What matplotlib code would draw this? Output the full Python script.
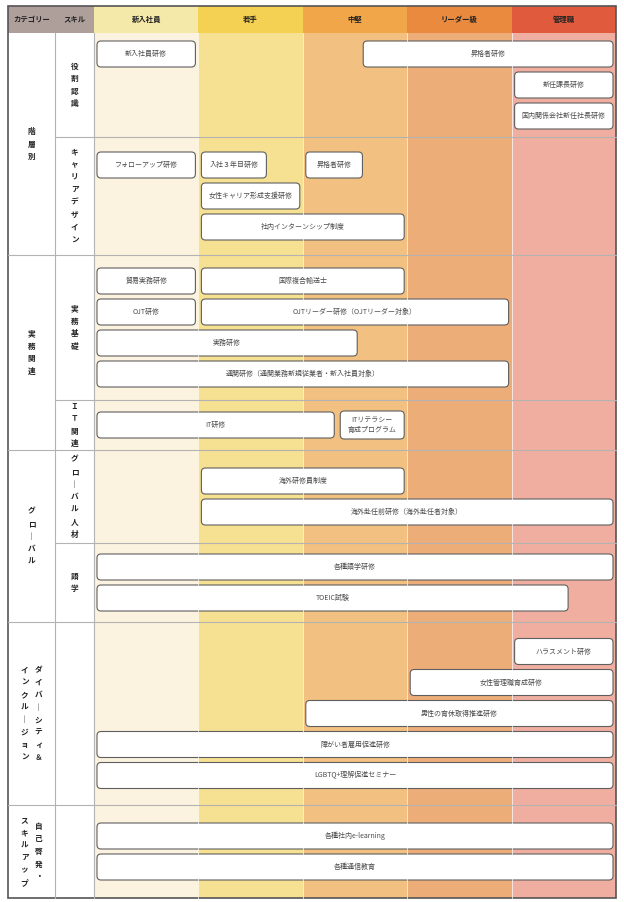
import matplotlib
matplotlib.use("Agg")
import matplotlib.pyplot as plt
from matplotlib.patches import Rectangle, FancyBboxPatch

plt.rcParams["font.family"] = ["Noto Sans CJK JP", "DejaVu Sans"]

# --- data -------------------------------------------------------------
LEVELS = ["新入社員", "若手", "中堅", "リーダー級", "管理職"]
HEAD_LEFT = ["カテゴリー", "スキル"]

# vertical labels: "\n" starts a new column (columns run right to left)
CATEGORIES = ["階層別", "実務関連", "グローバル",
              "ダイバーシティ＆\nインクルージョン", "自己啓発・\nスキルアップ"]
CATEGORY_ROWS = [2, 2, 2, 1, 1]
SKILLS = ["役割認識", "キャリアデザイン", "実務基礎", "ＩＴ関連",
          "グローバル人材", "語学", "", ""]

# trainings: name, skill row, span start / end in level units, lane in row
TRAINING_NAMES = [
    "新入社員研修", "昇格者研修", "新任課長研修", "国内関係会社新任社長研修",
    "フォローアップ研修", "入社３年目研修", "昇格者研修", "女性キャリア形成支援研修",
    "社内インターンシップ制度",
    "貿易実務研修", "国際複合輸送士", "OJT研修", "OJTリーダー研修（OJTリーダー対象）",
    "実務研修", "通関研修（通関業務新規従業者・新入社員対象）",
    "IT研修", "ITリテラシー\n育成プログラム",
    "海外研修員制度", "海外赴任前研修（海外赴任者対象）",
    "各種語学研修", "TOEIC試験",
    "ハラスメント研修", "女性管理職育成研修", "男性の育休取得推進研修",
    "障がい者雇用促進研修", "LGBTQ+理解促進セミナー",
    "各種社内e-learning", "各種通信教育",
]
TRAINING_ROW = [0, 0, 0, 0,
                1, 1, 1, 1, 1,
                2, 2, 2, 2, 2, 2,
                3, 3,
                4, 4,
                5, 5,
                6, 6, 6, 6, 6,
                7, 7]
TRAINING_START = [0, 2.55, 4, 4,
                  0, 1, 2, 1, 1,
                  0, 1, 0, 1, 0, 0,
                  0, 2.33,
                  1, 1,
                  0, 0,
                  4, 3, 2, 0, 0,
                  0, 0]
TRAINING_END = [1, 5, 5, 5,
                1, 1.68, 2.6, 2, 3,
                1, 3, 1, 4, 2.55, 4,
                2.33, 3,
                3, 5,
                5, 4.57,
                5, 5, 5, 5, 5,
                5, 5]
TRAINING_LANE = [0, 0, 1, 2,
                 0, 0, 0, 1, 2,
                 0, 0, 1, 1, 2, 3,
                 0, 0,
                 0, 1,
                 0, 1,
                 0, 1, 2, 3, 4,
                 0, 1]

# --- layout / style ---------------------------------------------------
W, H = 624, 902
X_CAT, X_SKILL, X_LEV, X_RIGHT = 8, 55, 94, 616
Y_TOP, Y_BODY = 6, 33
ROW_HEIGHTS = [104, 118, 145, 50, 93, 79, 183, 93]
COL_W = (X_RIGHT - X_LEV) / len(LEVELS)
LANE_PITCH = 31
BOX_H = 26
INSET = 3
CHAR_STEP = 12.5

HEAD_GRAY = "#ae9f9b"
HEAD_COLORS = ["#f5e9aa", "#f5d153", "#f2a64a", "#ea8a3e", "#e05b3e"]
BODY_COLORS = ["#fbf3df", "#f6e091", "#f2c081", "#ecad78", "#efae9f"]
LINE_GRAY = "#b3b3b3"


def lx(frac):
    return X_LEV + frac * COL_W


def vertical_text(ax, xc, yc, label, size, col_gap=14):
    cols = label.split("\n")
    n = len(cols)
    for k, col in enumerate(cols):
        x = xc + ((n - 1) / 2 - k) * col_gap
        top = yc - (len(col) - 1) * CHAR_STEP / 2
        for j, ch in enumerate(col):
            ch = "｜" if ch == "ー" else ch
            ax.text(x, top + j * CHAR_STEP, ch, ha="center", va="center",
                    fontsize=size, fontweight="bold", color="#222222")


fig = plt.figure(figsize=(W / 100, H / 100), dpi=100)
ax = fig.add_axes([0, 0, 1, 1])
ax.set_xlim(0, W)
ax.set_ylim(H, 0)
ax.axis("off")

row_tops = [Y_BODY]
for h in ROW_HEIGHTS:
    row_tops.append(row_tops[-1] + h)
y_bottom = row_tops[-1]

# header
ax.add_patch(Rectangle((X_CAT, Y_TOP), X_LEV - X_CAT, Y_BODY - Y_TOP, color=HEAD_GRAY, lw=0))
for x0, x1, t in [(X_CAT, X_SKILL, HEAD_LEFT[0]), (X_SKILL, X_LEV, HEAD_LEFT[1])]:
    ax.text((x0 + x1) / 2, (Y_TOP + Y_BODY) / 2, t, ha="center", va="center",
            fontsize=5.3, fontweight="bold", color="#222222")
for i, name in enumerate(LEVELS):
    ax.add_patch(Rectangle((lx(i), Y_TOP), COL_W, Y_BODY - Y_TOP, color=HEAD_COLORS[i], lw=0))
    ax.add_patch(Rectangle((lx(i), Y_BODY), COL_W, y_bottom - Y_BODY, color=BODY_COLORS[i], lw=0))
    ax.text(lx(i + 0.5), (Y_TOP + Y_BODY) / 2, name, ha="center", va="center",
            fontsize=5.3, fontweight="bold", color="#222222")

# faint separators between level columns
for i in range(1, len(LEVELS)):
    ax.plot([lx(i), lx(i)], [Y_BODY, y_bottom], color="white", lw=0.7, alpha=0.7)

# row lines and skill labels
cat_starts = [0]
for n in CATEGORY_ROWS:
    cat_starts.append(cat_starts[-1] + n)
for r in range(1, len(ROW_HEIGHTS)):
    x0 = X_CAT if r in cat_starts else X_SKILL
    ax.plot([x0, X_RIGHT], [row_tops[r], row_tops[r]], color=LINE_GRAY, lw=0.8)
for r, s in enumerate(SKILLS):
    if s:
        vertical_text(ax, (X_SKILL + X_LEV) / 2, (row_tops[r] + row_tops[r + 1]) / 2, s, 5.5)

for c, name in enumerate(CATEGORIES):
    yc = (row_tops[cat_starts[c]] + row_tops[cat_starts[c + 1]]) / 2
    vertical_text(ax, (X_CAT + X_SKILL) / 2, yc, name, 5.5)

ax.plot([X_SKILL, X_SKILL], [Y_BODY, y_bottom], color=LINE_GRAY, lw=0.8)
ax.plot([X_LEV, X_LEV], [Y_BODY, y_bottom], color=LINE_GRAY, lw=0.8)

# training boxes
lanes_per_row = [0] * len(ROW_HEIGHTS)
for r, lane in zip(TRAINING_ROW, TRAINING_LANE):
    lanes_per_row[r] = max(lanes_per_row[r], lane + 1)

for name, r, s, e, lane in zip(TRAINING_NAMES, TRAINING_ROW, TRAINING_START,
                                TRAINING_END, TRAINING_LANE):
    yc = (row_tops[r] + row_tops[r + 1]) / 2 + (lane - (lanes_per_row[r] - 1) / 2) * LANE_PITCH
    x0, x1 = lx(s) + INSET, lx(e) - INSET
    h = BOX_H + (2 if "\n" in name else 0)
    ax.add_patch(FancyBboxPatch((x0, yc - h / 2), x1 - x0, h,
                                boxstyle="round,pad=0,rounding_size=4",
                                facecolor="white", edgecolor="#5f5f5f", lw=0.8))
    ax.text((x0 + x1) / 2, yc, name, ha="center", va="center", fontsize=5,
            color="#4a4a4a", linespacing=1.3)

# outer border
ax.add_patch(Rectangle((X_CAT, Y_TOP), X_RIGHT - X_CAT, y_bottom - Y_TOP,
                       fill=False, edgecolor="#555555", lw=1.2))

fig.savefig("out.png", dpi=100)
